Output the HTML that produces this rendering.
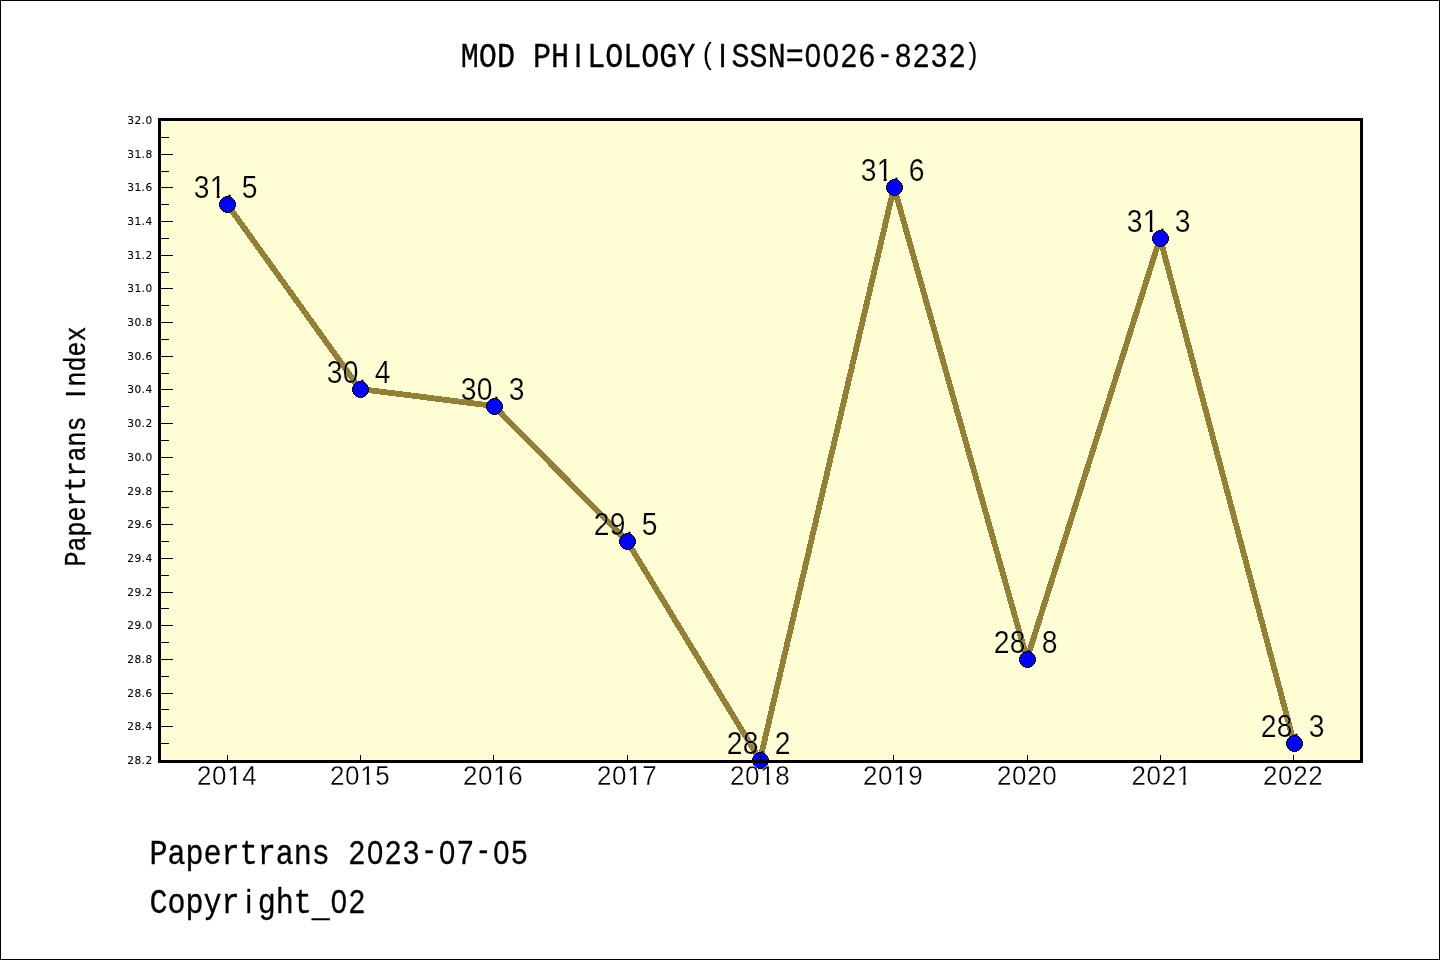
<!DOCTYPE html>
<html lang="en">
<head>
<meta charset="utf-8">
<title>MOD PHILOLOGY(ISSN=0026-8232)</title>
<style>html,body{margin:0;padding:0;background:#fff}body{width:1440px;height:960px;overflow:hidden}svg{display:block;will-change:transform}</style>
</head>
<body>
<svg width="1440" height="960" viewBox="0 0 1440 960">
<style>text{fill:#000;white-space:pre;stroke:#000;stroke-width:.3px;vector-effect:non-scaling-stroke;stroke-linejoin:round}.d{stroke-width:.1px;letter-spacing:.45px}.m{font-family:"Liberation Mono",monospace}.s{font-family:"Liberation Sans",sans-serif;stroke-width:.1px}.d{font-family:"DejaVu Sans","Liberation Sans",sans-serif}.t{stroke-width:.3px}.v{stroke:#fffdd4;stroke-width:.2px}.x{stroke:#fff;stroke-width:.3px}</style>
<defs><clipPath id="c1"><path clip-rule="evenodd" d="M-400-400h1200v800h-1200zM19.13 -3.71H25.12V1.24H19.13zM28.39 -3.71H33.95V1.24H28.39z"/></clipPath><clipPath id="c2"><path clip-rule="evenodd" d="M-400-400h1200v800h-1200zM34.16 -3.35H39.58V1.12H34.16zM42.55 -3.35H47.57V1.12H42.55z"/></clipPath><clipPath id="c3"><path clip-rule="evenodd" d="M-400-400h1200v800h-1200zM50.40 -3.35H55.82V1.12H50.40zM58.79 -3.35H63.81V1.12H58.79z"/></clipPath></defs>
<desc>Line chart: MOD PHILOLOGY (ISSN=0026-8232), Papertrans Index by year 2014-2022. Papertrans 2023-07-05. Copyright_02</desc>
<rect x="0" y="0" width="1440" height="960" fill="#fff"/>
<rect x="160" y="120" width="1200" height="640" fill="#fffdd4"/>
<polyline fill="none" stroke="#948034" stroke-width="5.85" stroke-linejoin="round" stroke-linecap="butt" shape-rendering="crispEdges" points="227,204 360,389 494,406 627,541 760,760 894,187 1027,659 1160,238 1294,743"/>
<g id="values">
<text class="s v" font-size="30.88" text-anchor="middle" transform="translate(193.7,197.9) scale(0.915,1)" clip-path="url(#c1)" x="8.74 26.23 39.02 61.2" y="0">31.5</text>
<text class="s v" font-size="30.88" text-anchor="middle" transform="translate(326.7,382.9) scale(0.915,1)" x="8.74 26.23 39.02 61.2" y="0">30.4</text>
<text class="s v" font-size="30.88" text-anchor="middle" transform="translate(460.7,399.9) scale(0.915,1)" x="8.74 26.23 39.02 61.2" y="0">30.3</text>
<text class="s v" font-size="30.88" text-anchor="middle" transform="translate(593.7,534.9) scale(0.915,1)" x="8.74 26.23 39.02 61.2" y="0">29.5</text>
<text class="s v" font-size="30.88" text-anchor="middle" transform="translate(726.7,753.9) scale(0.915,1)" x="8.74 26.23 39.02 61.2" y="0">28.2</text>
<text class="s v" font-size="30.88" text-anchor="middle" transform="translate(860.7,180.9) scale(0.915,1)" clip-path="url(#c1)" x="8.74 26.23 39.02 61.2" y="0">31.6</text>
<text class="s v" font-size="30.88" text-anchor="middle" transform="translate(993.7,652.9) scale(0.915,1)" x="8.74 26.23 39.02 61.2" y="0">28.8</text>
<text class="s v" font-size="30.88" text-anchor="middle" transform="translate(1126.7,231.9) scale(0.915,1)" clip-path="url(#c1)" x="8.74 26.23 39.02 61.2" y="0">31.3</text>
<text class="s v" font-size="30.88" text-anchor="middle" transform="translate(1260.7,736.9) scale(0.915,1)" x="8.74 26.23 39.02 61.2" y="0">28.3</text>
</g>
<defs><g id="mk" shape-rendering="crispEdges"><path fill="#000" d="M-2 -8h5v1h-5zM-4 -7h9v1h-9zM-5 -6h11v1h-11zM-6 -5h13v1h-13zM-7 -4h15v1h-15zM-7 -3h15v1h-15zM-8 -2h17v1h-17zM-8 -1h17v1h-17zM-8 0h17v1h-17zM-8 1h17v1h-17zM-8 2h17v1h-17zM-7 3h15v1h-15zM-7 4h15v1h-15zM-6 5h13v1h-13zM-5 6h11v1h-11zM-4 7h9v1h-9zM-2 8h5v1h-5z"/><path fill="#00f" d="M-2 -7h5v1h-5zM-4 -6h9v1h-9zM-5 -5h11v1h-11zM-6 -4h13v1h-13zM-6 -3h13v1h-13zM-7 -2h15v1h-15zM-7 -1h15v1h-15zM-7 0h15v1h-15zM-7 1h15v1h-15zM-7 2h15v1h-15zM-6 3h13v1h-13zM-6 4h13v1h-13zM-5 5h11v1h-11zM-4 6h9v1h-9zM-2 7h5v1h-5z"/></g></defs>
<g id="markers">
<use href="#mk" x="227" y="204"/>
<use href="#mk" x="360" y="389"/>
<use href="#mk" x="494" y="406"/>
<use href="#mk" x="627" y="541"/>
<use href="#mk" x="760" y="760"/>
<use href="#mk" x="894" y="187"/>
<use href="#mk" x="1027" y="659"/>
<use href="#mk" x="1160" y="238"/>
<use href="#mk" x="1294" y="743"/>
</g>
<rect x="159.5" y="119.5" width="1202" height="642" fill="none" stroke="#000" stroke-width="3"/>
<g id="ticks" fill="#000">
<rect x="160" y="743" width="9" height="1"/>
<rect x="160" y="726" width="13" height="1"/>
<rect x="160" y="709" width="9" height="1"/>
<rect x="160" y="693" width="13" height="1"/>
<rect x="160" y="676" width="9" height="1"/>
<rect x="160" y="659" width="13" height="1"/>
<rect x="160" y="642" width="9" height="1"/>
<rect x="160" y="625" width="13" height="1"/>
<rect x="160" y="608" width="9" height="1"/>
<rect x="160" y="592" width="13" height="1"/>
<rect x="160" y="575" width="9" height="1"/>
<rect x="160" y="558" width="13" height="1"/>
<rect x="160" y="541" width="9" height="1"/>
<rect x="160" y="524" width="13" height="1"/>
<rect x="160" y="507" width="9" height="1"/>
<rect x="160" y="491" width="13" height="1"/>
<rect x="160" y="474" width="9" height="1"/>
<rect x="160" y="457" width="13" height="1"/>
<rect x="160" y="440" width="9" height="1"/>
<rect x="160" y="423" width="13" height="1"/>
<rect x="160" y="406" width="9" height="1"/>
<rect x="160" y="389" width="13" height="1"/>
<rect x="160" y="373" width="9" height="1"/>
<rect x="160" y="356" width="13" height="1"/>
<rect x="160" y="339" width="9" height="1"/>
<rect x="160" y="322" width="13" height="1"/>
<rect x="160" y="305" width="9" height="1"/>
<rect x="160" y="288" width="13" height="1"/>
<rect x="160" y="272" width="9" height="1"/>
<rect x="160" y="255" width="13" height="1"/>
<rect x="160" y="238" width="9" height="1"/>
<rect x="160" y="221" width="13" height="1"/>
<rect x="160" y="204" width="9" height="1"/>
<rect x="160" y="187" width="13" height="1"/>
<rect x="160" y="171" width="9" height="1"/>
<rect x="160" y="154" width="13" height="1"/>
<rect x="160" y="137" width="9" height="1"/>
<rect x="227" y="755" width="1" height="6"/>
<rect x="360" y="755" width="1" height="6"/>
<rect x="493" y="755" width="1" height="6"/>
<rect x="627" y="755" width="1" height="6"/>
<rect x="760" y="755" width="1" height="6"/>
<rect x="893" y="755" width="1" height="6"/>
<rect x="1027" y="755" width="1" height="6"/>
<rect x="1160" y="755" width="1" height="6"/>
<rect x="1293" y="755" width="1" height="6"/>
</g>
<g id="ylabels" class="d" font-size="10.6" text-anchor="end">
<text class="d" x="152.6" y="763.9">28.2</text>
<text class="d" x="152.6" y="729.9">28.4</text>
<text class="d" x="152.6" y="696.9">28.6</text>
<text class="d" x="152.6" y="662.9">28.8</text>
<text class="d" x="152.6" y="628.9">29.0</text>
<text class="d" x="152.6" y="595.9">29.2</text>
<text class="d" x="152.6" y="561.9">29.4</text>
<text class="d" x="152.6" y="527.9">29.6</text>
<text class="d" x="152.6" y="494.9">29.8</text>
<text class="d" x="152.6" y="460.9">30.0</text>
<text class="d" x="152.6" y="426.9">30.2</text>
<text class="d" x="152.6" y="392.9">30.4</text>
<text class="d" x="152.6" y="359.9">30.6</text>
<text class="d" x="152.6" y="325.9">30.8</text>
<text class="d" x="152.6" y="291.9">31.0</text>
<text class="d" x="152.6" y="258.9">31.2</text>
<text class="d" x="152.6" y="224.9">31.4</text>
<text class="d" x="152.6" y="190.9">31.6</text>
<text class="d" x="152.6" y="157.9">31.8</text>
<text class="d" x="152.6" y="123.9">32.0</text>
</g>
<g id="xlabels">
<text class="s x" font-size="27.94" text-anchor="middle" transform="translate(196.7,785.4) scale(0.93,1)" clip-path="url(#c2)" x="8.12 24.35 40.59 56.83" y="0">2014</text>
<text class="s x" font-size="27.94" text-anchor="middle" transform="translate(329.7,785.4) scale(0.93,1)" clip-path="url(#c2)" x="8.12 24.35 40.59 56.83" y="0">2015</text>
<text class="s x" font-size="27.94" text-anchor="middle" transform="translate(462.7,785.4) scale(0.93,1)" clip-path="url(#c2)" x="8.12 24.35 40.59 56.83" y="0">2016</text>
<text class="s x" font-size="27.94" text-anchor="middle" transform="translate(596.7,785.4) scale(0.93,1)" clip-path="url(#c2)" x="8.12 24.35 40.59 56.83" y="0">2017</text>
<text class="s x" font-size="27.94" text-anchor="middle" transform="translate(729.7,785.4) scale(0.93,1)" clip-path="url(#c2)" x="8.12 24.35 40.59 56.83" y="0">2018</text>
<text class="s x" font-size="27.94" text-anchor="middle" transform="translate(862.7,785.4) scale(0.93,1)" clip-path="url(#c2)" x="8.12 24.35 40.59 56.83" y="0">2019</text>
<text class="s x" font-size="27.94" text-anchor="middle" transform="translate(996.7,785.4) scale(0.93,1)" x="8.12 24.35 40.59 56.83" y="0">2020</text>
<text class="s x" font-size="27.94" text-anchor="middle" transform="translate(1131.2,785.4) scale(0.93,1)" clip-path="url(#c3)" x="8.12 24.35 40.59 56.83" y="0">2021</text>
<text class="s x" font-size="27.94" text-anchor="middle" transform="translate(1262.7,785.4) scale(0.93,1)" x="8.12 24.35 40.59 56.83" y="0">2022</text>
</g>
<text class="m" font-size="34.73" text-anchor="middle" transform="translate(460.8,67.2) scale(0.866,1)" x="10.42 31.26 52.11 72.95 93.79 114.64 135.48 156.32 177.17 198.01 218.85 239.69 260.54 284.84 302.22 323.07 343.91 364.75 385.59 406.44 427.28 448.12 468.97 489.81 510.65 531.5 552.34 573.18 591.37" y="0 0 0 0 0 0 0 0 0 0 0 0 0 -3 0 0 0 0 0 0 0 0 0 -2.7 0 0 0 0 -3">MOD PH<tspan class="s t" font-size="33.75">I</tspan>LOLOGY<tspan class="s" font-size="30.38" stroke-width="0">(</tspan><tspan class="s t" font-size="33.75">I</tspan>SSN=<tspan class="s t" font-size="33.75">0026-8232</tspan><tspan class="s" font-size="30.38" stroke-width="0">)</tspan></text>
<text class="m" font-size="28.86" text-anchor="middle" transform="translate(85,566.4) rotate(-90) scale(0.866,1)" x="8.66 25.98 43.3 60.62 77.94 95.27 112.59 129.91 147.23 164.55 181.87 199.19 216.51 233.83 251.15 268.48" y="0">Papertrans <tspan class="s t" font-size="28.05">I</tspan>ndex</text>
<text class="m" font-size="34.73" text-anchor="middle" transform="translate(149.4,864) scale(0.866,1)" x="10.42 31.26 52.11 72.95 93.79 114.64 135.48 156.32 177.17 198.01 218.85 239.69 260.54 281.38 302.22 323.07 343.91 364.75 385.59 406.44 427.28" y="0 0 0 0 0 0 0 0 0 0 0 0 0 0 0 -2.7 0 0 -2.7 0 0">Papertrans <tspan class="s t" font-size="33.75">2023-07-05</tspan></text>
<text class="m" font-size="34.73" text-anchor="middle" transform="translate(149.4,913.3) scale(0.866,1)" x="10.42 31.26 52.11 72.95 93.79 114.64 135.48 156.32 177.17 198.01 218.85 239.69" y="0 0 0 0 0 0 0 0 0 3 0 0">Copyr<tspan class="s t" font-size="33.75">i</tspan>ght_<tspan class="s t" font-size="33.75">02</tspan></text>
<rect x="0.5" y="0.5" width="1439" height="959" fill="none" stroke="#000" stroke-width="1"/>
</svg>
</body>
</html>
